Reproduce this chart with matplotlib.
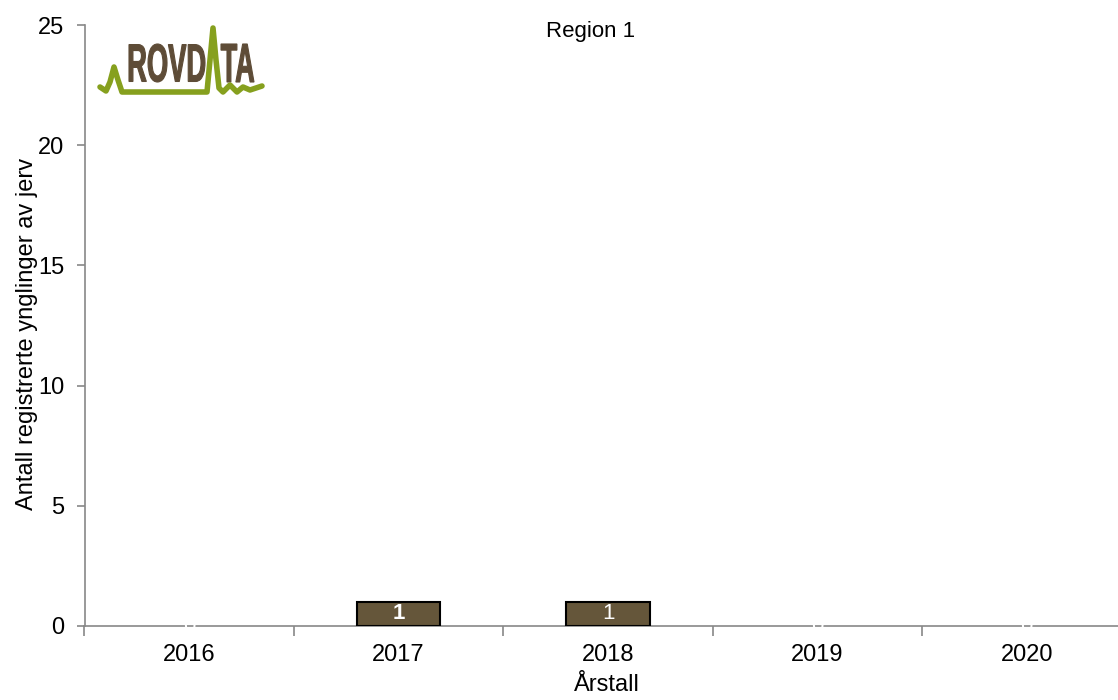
import matplotlib
matplotlib.use("Agg")
import matplotlib.pyplot as plt
from matplotlib.lines import Line2D
from matplotlib.textpath import TextPath
from matplotlib.patches import PathPatch
from matplotlib.font_manager import FontProperties
from matplotlib.transforms import Affine2D

plt.rcParams['font.family'] = ['Liberation Sans', 'DejaVu Sans']

years = ['2016', '2017', '2018', '2019', '2020']
values = [0, 1, 1, 0, 0]
title = 'Region 1'
ylabel = 'Antall registrerte ynglinger av jerv'
xlabel = 'Årstall'

W, H = 1118, 700
fig = plt.figure(figsize=(W / 100, H / 100), dpi=100)
ax_left, ax_top, ax_bottom = 84.5, 25, 626
ax = fig.add_axes([ax_left / W, 1 - ax_bottom / H, 1 - ax_left / W, (ax_bottom - ax_top) / H])

cat_w = 209.4
x = list(range(len(years)))
ax.bar(x, values, width=0.4, color='#65563A',
       edgecolor=['black' if v else 'none' for v in values],
       linewidth=[1.5 if v else 0 for v in values], zorder=3)
for xi, v in zip(x, values):
    ax.text(xi, v / 2, str(v), ha='center', va='center', color='white',
            fontsize=16, fontweight='bold' if xi == 1 else 'normal', zorder=5)

ax.set_yticks([0, 5, 10, 15, 20, 25])
ax.set_xticks(x)
ax.set_xticklabels(years)
ax.set_xticks([i - 0.5 for i in range(len(years) + 1)], minor=True)
ax.set_xlim(-0.5, -0.5 + (W - ax_left) / cat_w)
ax.set_ylim(0, 25)
ax.tick_params(axis='x', which='major', length=0, labelsize=17, pad=13)
ax.tick_params(axis='x', which='minor', length=7, color='#888888', width=1.2)
ax.tick_params(axis='y', length=6, color='#888888', width=1.2, labelsize=17, pad=8.5)
for s in ['top', 'right']:
    ax.spines[s].set_visible(False)
for s in ['left', 'bottom']:
    ax.spines[s].set_color('#888888')
    ax.spines[s].set_linewidth(1.2)

ax.set_title(title, fontsize=16, x=(591 - ax_left) / (W - ax_left),
             y=(ax_bottom - 37) / (ax_bottom - ax_top), pad=0, va='baseline')
ax.set_ylabel(ylabel, fontsize=17)
ax.yaxis.set_label_coords((38 - ax_left) / (W - ax_left), (ax_bottom - 334) / (ax_bottom - ax_top))
ax.set_xlabel(xlabel, fontsize=17)
ax.xaxis.set_label_coords((607 - ax_left) / (W - ax_left), (ax_bottom - 674) / (ax_bottom - ax_top))

# Logo (decoration)
def fx(px):
    return px / W
def fy(py):
    return 1 - py / H
gx = [100, 106, 110, 114, 118, 122, 207, 210, 213, 216, 219, 223, 230, 237, 243, 250, 262]
gy = [87, 91, 82, 67, 80, 92, 92, 60, 28, 60, 88, 92, 85, 92, 87, 90, 86]
fig.add_artist(Line2D([fx(v) for v in gx], [fy(v) for v in gy], color='#86A01E', linewidth=4,
                      solid_joinstyle='round', solid_capstyle='round'))

fp = FontProperties(family='Liberation Sans', weight='bold')
def logo_text(s, x0, x1, y0, y1):
    p = TextPath((0, 0), s, size=100, prop=fp)
    bb = p.get_extents()
    tr = (Affine2D().translate(-bb.x0, -bb.y0)
          .scale((x1 - x0) / bb.width, (y1 - y0) / bb.height)
          .translate(x0, H - y1).scale(1 / W, 1 / H))
    fig.add_artist(PathPatch(tr.transform_path(p), transform=fig.transFigure,
                             facecolor='#5E4C37', edgecolor='#5E4C37', linewidth=0.8))
logo_text('ROVD', 129, 205, 44, 82)
logo_text('TA', 221, 254, 44, 82)

fig.savefig('out.png', dpi=100)
